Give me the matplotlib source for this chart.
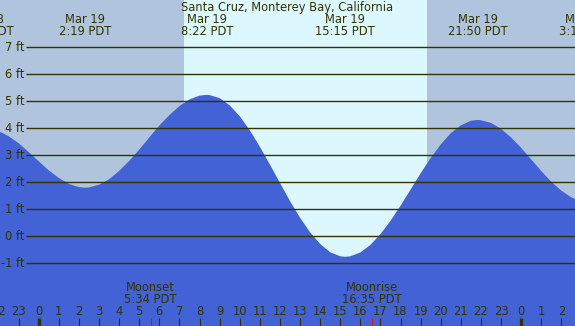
import matplotlib
matplotlib.use('Agg')
from matplotlib import pyplot as plt

# 潮位数据（小时，相对 3月19日 0:00；单位 ft）
hours = [-2.5, -2.0, -1.5, -1.0, -0.5, 0.0, 0.5, 1.0, 1.5, 2.0, 2.32,
         2.5, 3.0, 3.5, 4.0, 4.5, 5.0, 5.5, 6.0, 6.5, 7.0, 7.5, 8.0, 8.37,
         8.5, 9.0, 9.5, 10.0, 10.5, 11.0, 11.5, 12.0, 12.5, 13.0, 13.5, 14.0, 14.5, 15.0, 15.25,
         15.5, 16.0, 16.5, 17.0, 17.5, 18.0, 18.5, 19.0, 19.5, 20.0, 20.5, 21.0, 21.5, 21.83,
         22.0, 22.5, 23.0, 23.5, 24.0, 24.5, 25.0, 25.5, 26.0, 26.5, 27.0]
heights = [3.99, 3.90, 3.71, 3.45, 3.12, 2.78, 2.44, 2.16, 1.94, 1.82, 1.80,
           1.81, 1.91, 2.11, 2.42, 2.79, 3.21, 3.66, 4.10, 4.49, 4.82, 5.07, 5.21, 5.24,
           5.23, 5.12, 4.85, 4.45, 3.93, 3.32, 2.66, 1.98, 1.31, 0.69, 0.15, -0.28, -0.59, -0.74, -0.76,
           -0.74, -0.60, -0.32, 0.08, 0.57, 1.13, 1.73, 2.33, 2.90, 3.40, 3.82, 4.11, 4.28, 4.31,
           4.30, 4.20, 3.98, 3.66, 3.28, 2.85, 2.42, 2.02, 1.69, 1.44, 1.30]

# 高低潮标注
tide_hours = [-2.72, 2.32, 8.37, 15.25, 21.83, 27.18]
tide_dates = ['Mar 18', 'Mar 19', 'Mar 19', 'Mar 19', 'Mar 19', 'Mar 20']
tide_times = ['21:17 PDT', '2:19 PDT', '8:22 PDT', '15:15 PDT', '21:50 PDT', '3:11 PDT']

# 日出日落
sunrise, sunset = 7.23, 19.30

# 月出月落
moon_hours = [5.57, 16.58]
moon_names = ['Moonset', 'Moonrise']
moon_times = ['5:34 PDT', '16:35 PDT']

ft_levels = [7, 6, 5, 4, 3, 2, 1, 0, -1]
hour_ticks = list(range(-2, 27))

title = 'Santa Cruz, Monterey Bay, California'

night_c = '#B0C4DE'
day_c = '#DDF7FF'
tide_c = '#4262D6'
text_c = '#333300'
fs = 8.3

fig = plt.figure(figsize=(5.75, 3.26), dpi=100)
ax = fig.add_axes([0, 0, 1, 1])
x0, x1 = -1.925, 26.68
y0, y1 = -3.322, 8.752
ax.set_xlim(x0, x1)
ax.set_ylim(y0, y1)
ax.axis('off')

# 背景：夜间/白天
ax.axvspan(x0 - 1, sunrise, color=night_c, zorder=0, lw=0)
ax.axvspan(sunrise, sunset, color=day_c, zorder=0, lw=0)
ax.axvspan(sunset, x1 + 1, color=night_c, zorder=0, lw=0)

# 潮位填充
ax.fill_between(hours, heights, y0 - 1, color=tide_c, lw=0, zorder=1)

# 横线和刻度文字
for lv in ft_levels:
    ax.hlines(lv, -0.632, x1 + 1, color=text_c, lw=1.0, zorder=2)
    ax.text(-0.70, lv, f'{lv} ft', ha='right', va='center', fontsize=fs, color=text_c, zorder=3)

# 标题和高低潮标签
ax.text(12.35, 8.467, title, ha='center', va='center', fontsize=fs, color=text_c)
for h, d, t in zip(tide_hours, tide_dates, tide_times):
    ax.text(h, 8.048, d, ha='center', va='center', fontsize=fs, color=text_c)
    ax.text(h, 7.593, t, ha='center', va='center', fontsize=fs, color=text_c)

# 月出月落
for h, n, t in zip(moon_hours, moon_names, moon_times):
    ax.text(h, -1.896, n, ha='center', va='center', fontsize=fs, color=text_c)
    ax.text(h, -2.341, t, ha='center', va='center', fontsize=fs, color=text_c)
    ax.vlines(h, y0, -3.026, color='red', lw=0.8, zorder=3)

# 小时刻度
for h in hour_ticks:
    ax.text(h, -2.785, str(h % 24), ha='center', va='center', fontsize=fs, color=text_c)
    ax.vlines(h, y0, -3.026, color=text_c, lw=2.4 if h % 24 == 0 else 0.8, zorder=3)

fig.savefig('out.png', dpi=100)
